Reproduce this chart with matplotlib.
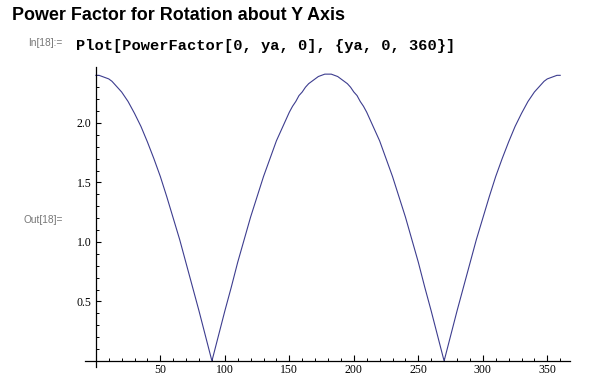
import numpy as np
import matplotlib
matplotlib.use("Agg")
import matplotlib.pyplot as plt
from matplotlib.ticker import FixedLocator

# Data (ya in degrees, PowerFactor value)
ya = [0, 2.5, 5, 7.5, 10, 12.5, 15, 17.5, 20, 22.5, 25, 27.5, 30, 35, 40, 45,
      50, 55, 60, 65, 70, 75, 80, 85, 90,
      95, 100, 105, 110, 115, 120, 125, 130, 135, 140, 145, 147.5, 150, 152.5,
      155, 157.5, 160, 162.5, 165, 167.5, 170, 172.5, 175, 177.5, 180,
      182.5, 185, 187.5, 190, 192.5, 195, 197.5, 200, 202.5, 205, 207.5, 210,
      212.5, 215, 220, 225, 230, 235, 240, 245, 250, 255, 260, 265, 270,
      275, 280, 285, 290, 295, 300, 305, 310, 315, 320, 325, 330, 332.5, 335,
      337.5, 340, 342.5, 345, 347.5, 350, 352.5, 355, 357.5, 360]
power_factor = [
    2.40, 2.40, 2.39, 2.38, 2.37, 2.35, 2.32, 2.29, 2.26, 2.22, 2.18, 2.13, 2.08,
    1.97, 1.84, 1.70,
    1.55, 1.38, 1.20, 1.02, 0.82, 0.62, 0.42, 0.21, 0.00,
    0.21, 0.42, 0.62, 0.83, 1.02, 1.21, 1.38, 1.55, 1.70, 1.85, 1.97, 2.03,
    2.09, 2.14, 2.18, 2.23, 2.26, 2.30, 2.33, 2.35, 2.37, 2.39, 2.40, 2.41, 2.41,
    2.41, 2.40, 2.39, 2.37, 2.35, 2.33, 2.30, 2.26, 2.23, 2.18, 2.14, 2.09,
    2.03, 1.97, 1.85, 1.70, 1.55, 1.38, 1.21, 1.02, 0.83, 0.62, 0.42, 0.21, 0.00,
    0.21, 0.42, 0.62, 0.82, 1.02, 1.20, 1.38, 1.55, 1.70, 1.84, 1.97, 2.08, 2.13,
    2.18, 2.22, 2.26, 2.29, 2.32, 2.35, 2.37, 2.38, 2.39, 2.40, 2.40,
]
x_major = [50, 100, 150, 200, 250, 300, 350]
y_major = [0.5, 1.0, 1.5, 2.0]

title_text = "Power Factor for Rotation about Y Axis"
input_label = "In[18]:="
input_code = "Plot[PowerFactor[0, ya, 0], {ya, 0, 360}]"
output_label = "Out[18]="

W, H = 592, 385
fig = plt.figure(figsize=(W / 100, H / 100), dpi=100)
fig.patch.set_facecolor("white")

left, right, top, bottom = 85, 570, 67, 366.7
ax = fig.add_axes([left / W, (H - bottom) / H, (right - left) / W, (bottom - top) / H])
ax.plot(ya, power_factor, color="#3d3d8f", lw=0.8, solid_joinstyle="miter")

ax.set_xlim(-8.4, 367.6)
ax.set_ylim(-0.048, 2.47)
for s in ["top", "right"]:
    ax.spines[s].set_visible(False)
ax.spines["left"].set_position(("data", 0))
ax.spines["bottom"].set_position(("data", 0))
for s in ["left", "bottom"]:
    ax.spines[s].set_linewidth(0.9)
    ax.spines[s].set_color("black")

ax.xaxis.set_major_locator(FixedLocator(x_major))
ax.xaxis.set_minor_locator(FixedLocator([v for v in range(10, 361, 10) if v % 50 != 0]))
ax.yaxis.set_major_locator(FixedLocator(y_major))
ax.yaxis.set_minor_locator(FixedLocator([round(v * 0.1, 1) for v in range(1, 25) if v % 5 != 0]))

ax.set_xticklabels([str(v) for v in x_major], family="Liberation Serif", fontsize=8.5)
ax.set_yticklabels([f"{v:.1f}" for v in y_major], family="Liberation Serif", fontsize=8.5)

ax.tick_params(axis="x", which="major", direction="in", length=4.0, width=0.8, pad=2.0)
ax.tick_params(axis="x", which="minor", direction="in", length=2.3, width=0.7)
ax.tick_params(axis="y", which="major", direction="in", length=3.5, width=0.8, pad=3)
ax.tick_params(axis="y", which="minor", direction="in", length=2.3, width=0.7)

fig.text(12 / W, 1 - 20 / H, title_text, family="Liberation Sans", fontweight="bold",
         fontsize=12.9, ha="left", va="baseline")
fig.text(28 / W, 1 - 43.5 / H, input_label, family="Liberation Sans", fontsize=7.3,
         color="#777777", ha="left", va="center")
fig.text(76 / W, 1 - 46 / H, input_code, family="Liberation Mono", fontweight="bold",
         fontsize=11.1, ha="left", va="center")
fig.text(23 / W, 1 - 220 / H, output_label, family="Liberation Sans", fontsize=7.3,
         color="#777777", ha="left", va="center")

fig.savefig("out.png", dpi=100, facecolor="white")
